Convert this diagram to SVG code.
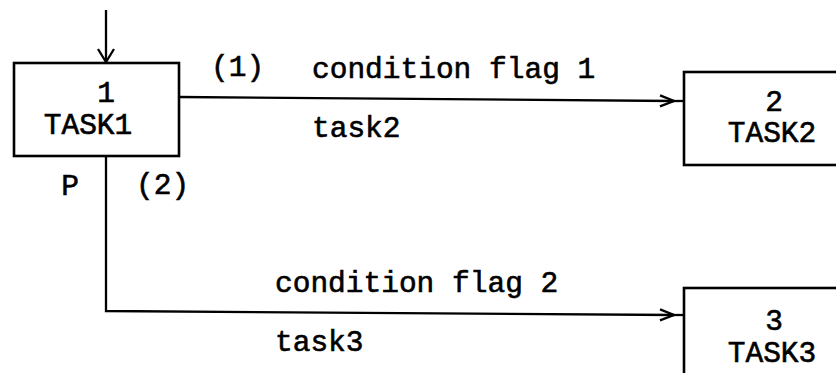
<svg xmlns="http://www.w3.org/2000/svg" width="836" height="373" viewBox="0 0 836 373">
  <style>
    .box { fill: none; stroke: #000; stroke-width: 2.6; }
    .wire { fill: none; stroke: #000; stroke-width: 2.3; }
    .lbl { font-family: "Liberation Mono", "Courier New", monospace; font-size: 29.5px; fill: #000; stroke: #000; stroke-width: 0.6; }
    .mid { text-anchor: middle; }
  </style>
  <defs>
    <!-- open chevron drawn on a wire just before it meets a box -->
    <marker id="chev" markerUnits="userSpaceOnUse" markerWidth="16" markerHeight="14" refX="14" refY="6" orient="auto" overflow="visible">
      <path d="M0,0.5 L14,6 L0,11.5" fill="none" stroke="#000" stroke-width="2.3"/>
    </marker>
    <!-- open vee arrowhead for the entry arrow -->
    <marker id="vee" markerUnits="userSpaceOnUse" markerWidth="20" markerHeight="20" refX="13" refY="8" orient="auto" overflow="visible">
      <path d="M0,0 L13,8 L0,16" fill="none" stroke="#000" stroke-width="2.3"/>
    </marker>
  </defs>

  <!-- connectors -->
  <g id="connectors">
    <path class="wire" d="M106,10 L106,62" marker-end="url(#vee)"/>
    <path class="wire" d="M179,97 L674,101" marker-end="url(#chev)"/>
    <path class="wire" d="M674,101 L684,101"/>
    <path class="wire" d="M106,156 L106,311 L674,315" marker-end="url(#chev)"/>
    <path class="wire" d="M674,315 L684,315"/>
  </g>

  <!-- connector labels -->
  <g id="labels">
    <text class="lbl" x="211" y="76">(1)</text>
    <text class="lbl" x="312" y="78">condition flag 1</text>
    <text class="lbl" x="312" y="137">task2</text>
    <text class="lbl mid" x="70" y="195">P</text>
    <text class="lbl" x="136" y="194">(2)</text>
    <text class="lbl" x="275" y="292">condition flag 2</text>
    <text class="lbl" x="275" y="351">task3</text>
  </g>

  <g id="task1">
    <rect class="box" x="14" y="63" width="165" height="93"/>
    <text class="lbl mid" x="106" y="102">1</text>
    <text class="lbl mid" x="88" y="134">TASK1</text>
  </g>

  <g id="task2">
    <rect class="box" x="684" y="72" width="200" height="93"/>
    <text class="lbl mid" x="774" y="111">2</text>
    <text class="lbl mid" x="772" y="142">TASK2</text>
  </g>

  <g id="task3">
    <rect class="box" x="684" y="288" width="200" height="120"/>
    <text class="lbl mid" x="774" y="330">3</text>
    <text class="lbl mid" x="772" y="362">TASK3</text>
  </g>
</svg>
